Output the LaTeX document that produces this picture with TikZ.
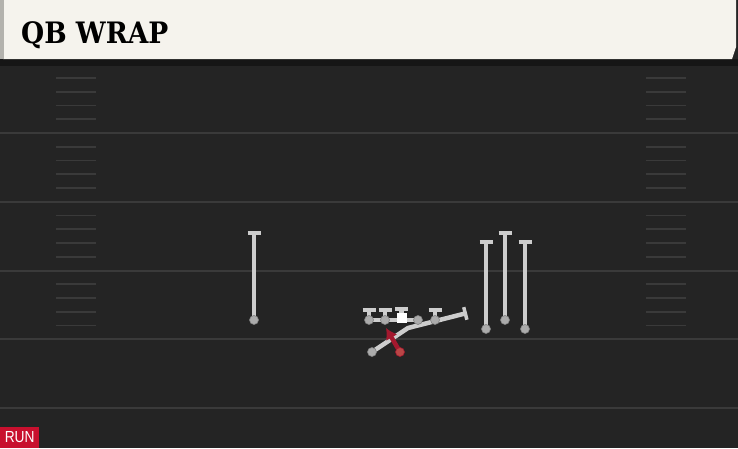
\documentclass[tikz,border=0pt]{standalone}
\usepackage{fontspec}
\usepackage{tikz}
\usetikzlibrary{arrows.meta}
\newfontfamily\titlefont{DejaVu Serif Condensed}
\newfontfamily\tagfont{Liberation Sans}
\definecolor{fieldbg}{HTML}{242424}
\definecolor{headbg}{HTML}{F5F3ED}
\definecolor{headedge}{HTML}{B3B2AD}
\definecolor{yardgray}{HTML}{3A3A3A}
\definecolor{routegray}{HTML}{CDCDCD}
\definecolor{dotgray}{HTML}{ABABAB}
\definecolor{runred}{HTML}{C8102E}
\definecolor{ballred}{HTML}{A3182E}
\tikzset{
  yardline/.style={yardgray,line width=2pt},
  hashmark/.style={yardgray,line width=1.8pt},
  route/.style={routegray,line width=4.5pt},
  block/.style={route,-{Bar[width=13pt,line width=3.5pt]}},
  dot/.style={circle,fill=dotgray,draw=gray,line width=0.6pt,minimum size=9pt,inner sep=0pt},
  ctr/.style={rectangle,fill=white,minimum size=10pt,inner sep=0pt},
}

\begin{document}
\begin{tikzpicture}[x=1pt,y=-1pt]
\useasboundingbox (0,0) rectangle (738,448);
\fill[fieldbg] (0,0) rectangle (738,448);

% header
\fill[black!40!fieldbg] (0,59) rectangle (738,66);
\fill[headbg] (3,0) -- (736,0) -- (736,47) -- (732,59) -- (3,59) -- cycle;
\fill[headedge] (0,0) rectangle (4,59);
\node[anchor=base west,inner sep=0pt] (title) at (21,43.5)
  {\titlefont\bfseries\fontsize{29.5}{29.5}\selectfont QB WRAP};

% yard lines and hashes
\foreach \y in {133,201.75,270.5,339.25,408} \draw[yardline] (0,\y) -- (738,\y);
\foreach \k in {0,...,3}
  \foreach \j in {1,...,4} {
    \pgfmathsetmacro{\hy}{64.25+68.75*\k+13.75*\j}
    \draw[hashmark] (56,\hy) -- (96,\hy);
    \draw[hashmark] (646,\hy) -- (686,\hy);
  }

% players
\coordinate (wrl) at (254,320);  \coordinate (wrlend) at (254,231);
\coordinate (wr1) at (486,329);  \coordinate (wr1end) at (486,240);
\coordinate (wr2) at (505,320);  \coordinate (wr2end) at (505,231);
\coordinate (wr3) at (525,329);  \coordinate (wr3end) at (525,240);
\coordinate (ol1) at (369,320);  \coordinate (ol1end) at (369,308);
\coordinate (ol2) at (385,320);  \coordinate (ol2end) at (385,308);
\coordinate (c) at (401.5,318);  \coordinate (cend) at (401.5,307);
\coordinate (ol4) at (418,320);
\coordinate (ol5) at (435,320);  \coordinate (ol5end) at (435,308);
\coordinate (rb) at (372,352);   \coordinate (rbturn) at (408,328);
\coordinate (rbend) at (467,313);
\coordinate (qb) at (400,352);   \coordinate (qbend) at (386,328);

\draw[block] (wrl) -- (wrlend);
\draw[block] (wr1) -- (wr1end);
\draw[block] (wr2) -- (wr2end);
\draw[block] (wr3) -- (wr3end);
\draw[block] (ol1) -- (ol1end);
\draw[block] (ol2) -- (ol2end);
\draw[block] (c) -- (cend);
\draw[block] (ol5) -- (ol5end);
\draw[route] (ol1) -- (ol4);
\draw[block] (rb) -- (rbturn) -- (rbend);
\draw[ballred,line width=4.5pt,-{Latex[length=11pt,width=13pt]}] (qb) -- (qbend);

\node[dot] (wrldot) at (wrl) {};
\node[dot] (wr1dot) at (wr1) {};
\node[dot] (wr2dot) at (wr2) {};
\node[dot] (wr3dot) at (wr3) {};
\node[dot] (ol1dot) at (ol1) {};
\node[dot] (ol2dot) at (ol2) {};
\node[dot] (ol4dot) at (ol4) {};
\node[dot] (ol5dot) at (ol5) {};
\node[dot] (rbdot) at (rb) {};
\node[ctr] (cdot) at (c) {};
\node[dot,fill=red!45!gray,draw=ballred] (qbdot) at (qb) {};

% play tag
\node[anchor=south west,fill=runred,text=white,minimum width=39pt,minimum height=21pt,
  inner sep=0pt,font=\tagfont\fontsize{16}{16}\selectfont] (tag) at (0,448)
  {\scalebox{0.86}[1]{RUN}};
\end{tikzpicture}
\end{document}
